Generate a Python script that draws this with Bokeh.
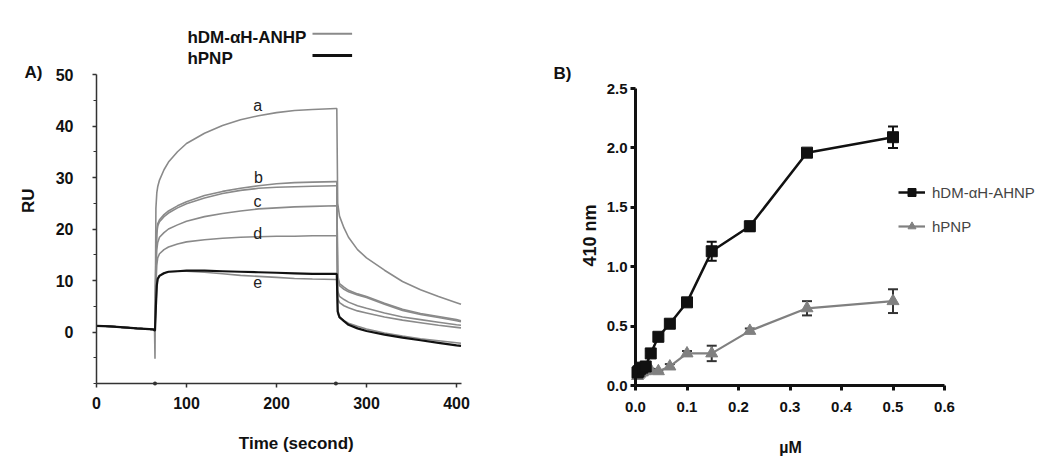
from bokeh.plotting import figure
from bokeh.layouts import row
from bokeh.models import (Range1d, FixedTicker, Label, Arrow, Legend, LegendItem,
                          Whisker, ColumnDataSource, TeeHead, LinearAxis)
from bokeh.core.properties import value
from bokeh.embed import file_html
from bokeh.resources import INLINE

# ---------------- Panel A data (SPR sensorgram) ----------------
time_s = [0, 15, 30, 45, 63, 64.5, 65, 66, 67, 68, 70, 75, 80, 90, 100, 120, 140, 160,
          180, 200, 220, 240, 266, 267, 268, 270, 275, 280, 290, 300, 320, 340, 360,
          380, 400, 405]
curve_a = [1.2, 1.1, 0.9, 0.7, 0.5, 0.3, -5.2, 24, 27, 28.2, 29.5, 31.5, 33, 35, 36.6,
           38.6, 40.1, 41.2, 42.0, 42.6, 43.0, 43.2, 43.4, 43.4, 25, 22.5, 20.2, 18.4, 16.0,
           14.4, 12.0, 9.8, 8.2, 6.9, 5.7, 5.4]
curve_b1 = [1.2, 1.1, 0.9, 0.7, 0.5, 0.3, 0.3, 15, 19.5, 21, 21.8, 22.8, 23.5, 24.5, 25.3,
            26.5, 27.3, 27.9, 28.4, 28.8, 29.0, 29.1, 29.2, 29.2, 11, 9.4, 8.7, 8.1, 7.4,
            6.9, 5.6, 4.4, 3.6, 3.0, 2.4, 2.2]
curve_b2 = [1.2, 1.1, 0.9, 0.7, 0.5, 0.3, 0.3, 14, 19, 20.6, 21.4, 22.4, 23.1, 24.1, 24.9,
            26.0, 26.9, 27.5, 27.9, 28.1, 28.2, 28.3, 28.4, 28.4, 10.5, 9.0, 8.3, 7.8, 7.2,
            6.7, 5.4, 4.2, 3.4, 2.8, 2.2, 2.0]
curve_c = [1.2, 1.1, 0.9, 0.7, 0.5, 0.3, 0.3, 12, 16, 17.4, 18.4, 19.3, 20, 20.8, 21.5,
           22.4, 23.0, 23.5, 23.9, 24.1, 24.3, 24.4, 24.5, 24.5, 8, 6.9, 6.3, 5.8, 5.1,
           4.6, 3.7, 2.9, 2.4, 1.9, 1.4, 1.3]
curve_d = [1.2, 1.1, 0.9, 0.7, 0.5, 0.3, 0.3, 9, 13, 14.4, 15.2, 16, 16.5, 17.1, 17.5,
           17.9, 18.2, 18.4, 18.5, 18.6, 18.6, 18.7, 18.7, 18.7, 6.5, 5.7, 5.1, 4.7, 4.1,
           3.7, 2.9, 2.3, 1.8, 1.3, 0.9, 0.8]
curve_e = [1.2, 1.1, 0.9, 0.7, 0.5, 0.3, 0.3, 5, 9, 10.4, 11, 11.5, 11.7, 11.8, 11.8,
           11.6, 11.3, 11.0, 10.8, 10.6, 10.4, 10.3, 10.2, 10.2, 3.6, 2.8, 2.2, 1.7, 1.1,
           0.6, -0.2, -0.8, -1.3, -1.7, -2.1, -2.2]
curve_hpnp = [1.2, 1.1, 0.9, 0.7, 0.5, 0.3, 0.3, 5, 9, 10.3, 10.9, 11.4, 11.7, 11.8, 11.9,
              11.9, 11.8, 11.7, 11.6, 11.5, 11.4, 11.3, 11.3, 11.2, 4, 2.9, 2.1, 1.4, 0.7,
              0.2, -0.5, -1.1, -1.6, -2.1, -2.6, -2.7]
curve_names = ["a", "b", "c", "d", "e"]
name_x = [179, 180, 179, 179, 179]
name_y = [42.4, 28.3, 23.6, 17.4, 8.6]
injection_marks = [65, 266]
a_xticks = [0, 100, 200, 300, 400]
a_yticks = [0, 10, 20, 30, 40, 50]
a_yminor = [-10, -5, 5, 15, 25, 35, 45]
legend_a_labels = ["hDM-\u03b1H-ANHP", "hPNP"]

# ---------------- Panel B data (binding ELISA) ----------------
conc_uM = [0.0039, 0.0059, 0.0088, 0.0132, 0.0198, 0.0296, 0.0444, 0.0667, 0.1, 0.148,
           0.222, 0.333, 0.5]
hdm_od = [0.11, 0.12, 0.14, 0.15, 0.16, 0.27, 0.41, 0.52, 0.70, 1.13, 1.34, 1.96, 2.09]
hdm_err = [0.02, 0.02, 0.02, 0.02, 0.02, 0.02, 0.02, 0.02, 0.03, 0.08, 0.04, 0.03, 0.09]
hpnp_od = [0.08, 0.09, 0.10, 0.11, 0.12, 0.13, 0.12, 0.16, 0.27, 0.27, 0.46, 0.65, 0.71]
hpnp_err = [0.01, 0.01, 0.01, 0.01, 0.01, 0.01, 0.01, 0.02, 0.02, 0.065, 0.02, 0.06, 0.1]
b_xticks = [0.0, 0.1, 0.2, 0.3, 0.4, 0.5, 0.6]
b_yticks = [0.0, 0.5, 1.0, 1.5, 2.0, 2.5]
legend_b_labels = ["hDM-\u03b1H-AHNP", "hPNP"]

GRAY = "#8a8a8a"
BLACK = "#111111"
FONT = "'Liberation Sans', Arial, sans-serif"
NARROW = "'Liberation Sans Narrow', 'Arial Narrow', 'Liberation Sans', sans-serif"

H = 464  # figure height (px)


def mapped_range(px_lo, px_hi, px_a, val_a, px_per_unit, flip=False):
    """Range whose ends map to the given pixel edges (layout helper)."""
    if not flip:
        return Range1d(val_a + (px_lo - px_a) / px_per_unit, val_a + (px_hi - px_a) / px_per_unit)
    return Range1d(val_a - (px_hi - px_a) / px_per_unit, val_a - (px_lo - px_a) / px_per_unit)


def style_label(text, x, y, size="16px", bold=True, angle=0.0, align="center"):
    return Label(x=x, y=y, text=text, angle=angle, text_font=FONT,
                 text_font_style="bold" if bold else "normal", text_font_size=size,
                 text_align=align, text_baseline="middle", text_color="#111111")


# ---------------- Panel A ----------------
WA = 478
A_X0, A_SX = 96, 0.9        # pixel of t=0, px per second
A_Y0, A_SY = 331.5, 5.15    # pixel of RU=0, px per RU
pa = figure(width=WA, height=H, output_backend="svg", toolbar_location=None,
            x_axis_type=None, y_axis_type=None, min_border=0,
            x_range=mapped_range(0, WA, A_X0, 0, A_SX),
            y_range=mapped_range(0, H, A_Y0, 0, A_SY, flip=True))
pa.outline_line_color = None
pa.grid.visible = False

for ys, col, w in [(curve_a, GRAY, 1.6), (curve_b1, GRAY, 1.6), (curve_b2, GRAY, 1.6),
                   (curve_c, GRAY, 1.6), (curve_d, GRAY, 1.6), (curve_e, GRAY, 1.6),
                   (curve_hpnp, BLACK, 2.2)]:
    pa.line(time_s, ys, line_color=col, line_width=w)

pa.text(x=name_x, y=name_y, text=curve_names, text_font=value(FONT),
        text_font_size="16px", text_color="#222222", text_align="center",
        text_baseline="bottom")

xa = LinearAxis(fixed_location=-10, bounds=(0, 405),
                ticker=FixedTicker(ticks=a_xticks, minor_ticks=[]))
ya = LinearAxis(fixed_location=0, bounds=(-10, 50),
                ticker=FixedTicker(ticks=a_yticks, minor_ticks=a_yminor))
pa.add_layout(xa, "below")
pa.add_layout(ya, "left")
for ax in (xa, ya):
    ax.axis_line_color = "#333333"
    ax.axis_line_width = 1.5
    ax.major_tick_line_color = "#333333"
    ax.minor_tick_line_color = "#333333"
    ax.major_tick_line_width = 1.5
    ax.major_tick_out = 4
    ax.major_tick_in = 0
    ax.minor_tick_out = 3
    ax.minor_tick_in = 0
    ax.major_label_text_font = FONT
    ax.major_label_text_font_style = "bold"
    ax.major_label_text_font_size = "16px"
    ax.major_label_text_color = "#111111"
ya.major_label_standoff = 19
xa.major_label_standoff = 9

pa.scatter(x=injection_marks, y=[-10] * len(injection_marks), marker="circle", size=4,
           fill_color="#333333", line_color=None)

pa.add_layout(style_label("RU", -75.6, 25.5, size="17px", angle=1.5708))
pa.add_layout(style_label("Time (second)", 222, -21.6, size="17px"))
pa.add_layout(style_label("A)", -70, 50.4, size="17px"))
pa.add_layout(style_label(legend_a_labels[0], 101, 57.2, size="17px", align="left"))
pa.add_layout(style_label(legend_a_labels[1], 101, 53.1, size="17px", align="left"))
pa.add_layout(Arrow(x_start=240, y_start=57.9, x_end=284, y_end=57.9, start=None,
                    end=None, line_color=GRAY, line_width=2))
pa.add_layout(Arrow(x_start=240, y_start=53.7, x_end=284, y_end=53.7, start=None,
                    end=None, line_color=BLACK, line_width=3))

# ---------------- Panel B ----------------
WB = 564
B_LEFT = WA                 # page x of figure B
B_X0, B_SX = 635 - B_LEFT, 515.0     # pixel (in figure) of x=0, px per uM
B_Y0, B_SY = 385, 118.8              # pixel of OD=0, px per unit
pb = figure(width=WB, height=H, output_backend="svg", toolbar_location=None,
            x_axis_type=None, y_axis_type=None, min_border=0,
            x_range=mapped_range(0, WB, B_X0, 0, B_SX),
            y_range=mapped_range(0, H, B_Y0, 0, B_SY, flip=True))
pb.outline_line_color = None
pb.grid.visible = False

src_h = ColumnDataSource(dict(x=conc_uM, y=hdm_od,
                              lo=[v - e for v, e in zip(hdm_od, hdm_err)],
                              hi=[v + e for v, e in zip(hdm_od, hdm_err)]))
src_p = ColumnDataSource(dict(x=conc_uM, y=hpnp_od,
                              lo=[v - e for v, e in zip(hpnp_od, hpnp_err)],
                              hi=[v + e for v, e in zip(hpnp_od, hpnp_err)]))

lp = pb.line("x", "y", source=src_p, line_color="#808080", line_width=2.2)
sp = pb.scatter("x", "y", source=src_p, marker="triangle", size=12,
                fill_color="#808080", line_color="#808080")
pb.add_layout(Whisker(source=src_p, base="x", lower="lo", upper="hi",
                      line_color="#333333", line_width=2,
                      upper_head=TeeHead(size=10, line_color="#333333", line_width=2),
                      lower_head=TeeHead(size=10, line_color="#333333", line_width=2)))
lh = pb.line("x", "y", source=src_h, line_color=BLACK, line_width=2.5)
sh = pb.scatter("x", "y", source=src_h, marker="square", size=11,
                fill_color=BLACK, line_color=BLACK)
pb.add_layout(Whisker(source=src_h, base="x", lower="lo", upper="hi",
                      line_color=BLACK, line_width=2,
                      upper_head=TeeHead(size=10, line_color=BLACK, line_width=2),
                      lower_head=TeeHead(size=10, line_color=BLACK, line_width=2)))

xb = LinearAxis(fixed_location=0, bounds=(0, 0.6),
                ticker=FixedTicker(ticks=b_xticks, minor_ticks=[]))
yb = LinearAxis(fixed_location=0, bounds=(0, 2.5),
                ticker=FixedTicker(ticks=b_yticks, minor_ticks=[]))
pb.add_layout(xb, "below")
pb.add_layout(yb, "left")
xb.major_label_overrides = {v: f"{v:.1f}" for v in b_xticks}
yb.major_label_overrides = {v: f"{v:.1f}" for v in b_yticks}
for ax in (xb, yb):
    ax.axis_line_color = BLACK
    ax.axis_line_width = 3
    ax.major_tick_line_color = BLACK
    ax.major_tick_line_width = 3
    ax.major_tick_out = 5
    ax.major_tick_in = 0
    ax.minor_tick_line_color = None
    ax.major_label_text_font = NARROW
    ax.major_label_text_font_style = "bold"
    ax.major_label_text_font_size = "15px"
    ax.major_label_text_color = BLACK
yb.major_label_standoff = 3
xb.major_label_standoff = 11

pb.add_layout(style_label("410 nm", -0.0874, 1.263, size="18px", angle=1.5708))
pb.add_layout(style_label("\u00b5M", 0.301, -0.52, size="16px"))
pb.add_layout(style_label("B)", -0.142, 2.626, size="17px"))

legend = Legend(items=[LegendItem(label=legend_b_labels[0], renderers=[lh, sh]),
                       LegendItem(label=legend_b_labels[1], renderers=[lp, sp])],
                location=(420, 228), background_fill_alpha=0, border_line_color=None,
                padding=0, margin=0, spacing=14, glyph_width=27, glyph_height=20,
                label_standoff=7, label_text_font=NARROW, label_text_font_size="15px",
                label_height=20)
pb.add_layout(legend)

layout = row(pa, pb)
open("out.html", "w").write(file_html(layout, INLINE))
